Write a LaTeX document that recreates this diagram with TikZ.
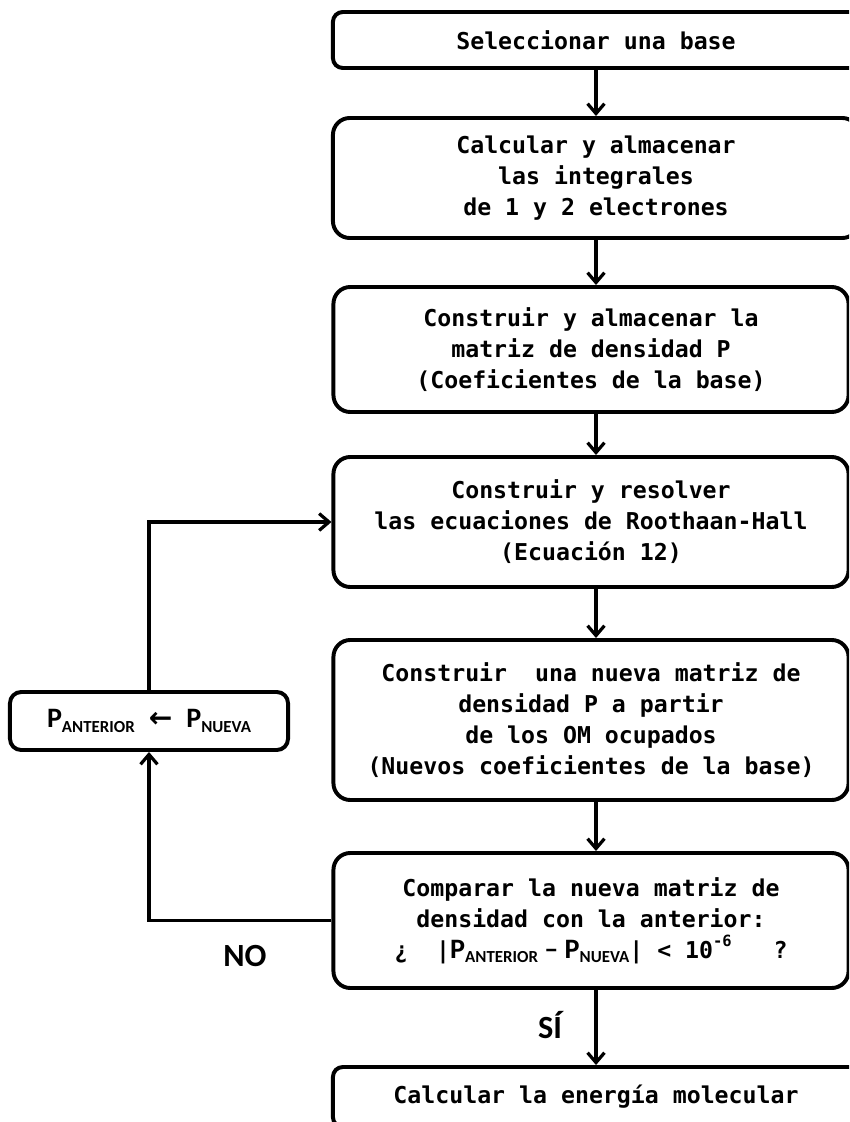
\documentclass[tikz,border=0pt]{standalone}
\usepackage{fontspec}
\setmainfont{DejaVu Sans Mono}
\newfontfamily\calfont{Carlito}
\newfontfamily\symfont{DejaVu Sans}
\usetikzlibrary{arrows.meta}

\newcommand\Pidx[1]{{\calfont\bfseries\fontsize{20}{22}\selectfont P\raisebox{-0.35ex}{\fontsize{12}{13}\selectfont #1}}}

\begin{document}
\begin{tikzpicture}[x=0.025cm, y=-0.025cm,
>={Straight Barb[length=7pt,width=12pt]},
block/.style = {rectangle, rounded corners=12pt, draw=black, line width=2.8pt, align=center,
  inner sep=0pt, font=\bfseries\fontsize{16.5}{22}\selectfont},
wide/.style = {block, minimum width=13.15cm},
narrow/.style = {block, minimum width=12.875cm},
link/.style = {->, line width=2.3pt},
lbl/.style = {font=\calfont\bfseries\fontsize{23}{26}\selectfont}]
\useasboundingbox (0,0) rectangle (849,1122);
\clip (0,0) rectangle (849,1122);
\coordinate (axis) at (596,0);
\node[wide, rounded corners=7pt, minimum height=1.4cm] at (596,40) (b1) {Seleccionar una base};
\node[wide, minimum height=3cm] at (596,178) (b2) {Calcular y almacenar\\las integrales\\de 1 y 2 electrones};
\node[narrow, minimum height=3.125cm] at (591,349.5) (b3) {Construir y almacenar la\\matriz de densidad P\\(Coeficientes de la base)};
\node[narrow, minimum height=3.25cm] at (591,522) (b4) {Construir y resolver\\las ecuaciones de Roothaan-Hall\\(Ecuación 12)};
\node[narrow, minimum height=4cm] at (591,720) (b5) {Construir\ \ una nueva matriz de\\densidad P a partir\\de los OM ocupados\\(Nuevos coeficientes de la base)};
\node[narrow, minimum height=3.375cm] at (591,920.5) (b6) {Comparar la nueva matriz de\\densidad con la anterior:\\
  ¿\ \ |\Pidx{ANTERIOR}{\calfont\bfseries\fontsize{20}{22}\selectfont\ – }\Pidx{NUEVA}| < 10\raisebox{0.9ex}{\fontsize{11}{12}\selectfont -6}\ \ \ ?};
\node[wide, rounded corners=7pt, minimum height=1.5cm] at (596,1097) (b7) {Calcular la energía molecular};
\node[block, rounded corners=8pt, minimum width=6.95cm, minimum height=1.45cm] at (149,721) (upd)
  {\Pidx{ANTERIOR}\ {\symfont\bfseries\fontsize{20}{22}\selectfont ←}\ \Pidx{NUEVA}};
\node[lbl] at (245,956) (no) {NO};
\node[lbl] at (550,1025) (si) {SÍ};
% main column
\draw[link] (b1.south -| axis) -- (b2.north -| axis);
\draw[link] (b2.south -| axis) -- (b3.north -| axis);
\draw[link] (b3.south -| axis) -- (b4.north -| axis);
\draw[link] (b4.south -| axis) -- (b5.north -| axis);
\draw[link] (b5.south -| axis) -- (b6.north -| axis);
\draw[link] (b6.south -| axis) -- (b7.north -| axis);
% loop back
\draw[link] (b6.west) -| (upd.south);
\draw[link] (upd.north) |- (b4.west);
\end{tikzpicture}
\end{document}
